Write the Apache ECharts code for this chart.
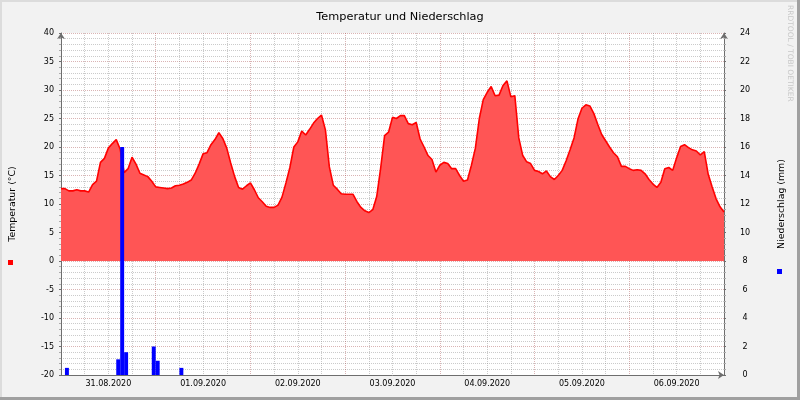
<!DOCTYPE html>
<html>
<head>
<meta charset="utf-8">
<script src="https://cdn.jsdelivr.net/npm/echarts@6.0.0/dist/echarts.min.js"></script>
<style>
html, body { margin: 0; padding: 0; background: #f2f2f2; }
#main { width: 800px; height: 400px; }
</style>
</head>
<body>
<div id="main"></div>
<script>
// Stunden ab 31.08.2020 00:00, ein Wert pro Stunde
var tempValues = [
    12.7, 12.7, 12.3, 12.3, 12.5, 12.3, 12.3, 12.1, 13.4, 14.0, 17.3, 18.0,
    19.8, 20.6, 21.3, 19.6, 15.5, 16.2, 18.2, 17.0, 15.4, 15.1, 14.8, 14.0,
    13.0, 12.9, 12.8, 12.7, 12.8, 13.2, 13.3, 13.5, 13.8, 14.2, 15.4, 17.0,
    18.8, 19.0, 20.4, 21.3, 22.5, 21.5, 19.8, 17.2, 14.8, 12.9, 12.6, 13.2,
    13.7, 12.5, 11.1, 10.4, 9.6, 9.4, 9.4, 9.8, 11.2, 13.7, 16.4, 20.0,
    20.9, 22.8, 22.1, 23.1, 24.2, 25.0, 25.6, 23.0, 16.5, 13.3, 12.6, 11.8,
    11.7, 11.7, 11.7, 10.4, 9.4, 8.8, 8.5, 9.0, 11.3, 16.3, 22.0, 22.6,
    25.2, 25.0, 25.5, 25.5, 24.1, 23.9, 24.3, 21.4, 20.0, 18.5, 17.8, 15.6,
    16.8, 17.3, 17.1, 16.2, 16.2, 15.0, 14.0, 14.2, 16.8, 19.8, 25.0, 28.3,
    29.6, 30.6, 29.0, 29.1, 30.8, 31.6, 28.8, 29.0, 21.6, 18.5, 17.4, 17.1,
    15.9, 15.7, 15.3, 15.8, 14.8, 14.3, 15.0, 15.9, 17.6, 19.5, 21.6, 24.9,
    26.8, 27.4, 27.2, 25.9, 24.0, 22.2, 21.1, 20.0, 19.0, 18.3, 16.6, 16.6,
    16.2, 15.9, 16.0, 15.9, 15.3, 14.3, 13.5, 12.9, 13.8, 16.2, 16.4, 15.9,
    18.1, 20.1, 20.4, 19.9, 19.5, 19.3, 18.6, 19.2, 15.2, 13.0, 10.9, 9.5,
    8.6
];
// Niederschlag: Stunde (Beginn) und Menge in mm
var precipHours = [1, 14, 15, 16, 23, 24, 30];
var precipValues = [0.5, 1.1, 16.0, 1.6, 2.0, 1.0, 0.5];
var dayLabels = ['31.08.2020', '01.09.2020', '02.09.2020', '03.09.2020', '04.09.2020', '05.09.2020', '06.09.2020'];

var colors = {
    back: '#f2f2f2',
    temp: '#ff0000',
    tempArea: '#ff5555',
    rain: '#0000ff',
    axis: '#6e6e6e',
    mgrid: 'rgba(150,40,40,0.35)',
    grid: 'rgba(140,140,140,0.45)'
};
var font = 'DejaVu Sans';

var chart = echarts.init(document.getElementById('main'), null, {renderer: 'canvas'});

var option = {
    backgroundColor: colors.back,
    animation: false,
    textStyle: {fontFamily: font},
    title: {
        text: 'Temperatur und Niederschlag',
        left: 'center',
        top: 7,
        textStyle: {fontFamily: font, fontSize: 11.3, fontWeight: 'normal', color: '#000'}
    },
    grid: {
        left: 60, right: 76, top: 33, bottom: 25,
        show: true, backgroundColor: '#fff', borderWidth: 0
    },
    xAxis: {
        type: 'value',
        min: 0,
        max: 168,
        interval: 6,
        axisLine: {onZero: false, lineStyle: {color: colors.axis}, symbol: ['none', 'arrow'], symbolSize: [6, 6]},
        axisTick: {show: false},
        axisLabel: {
            margin: 5,
            fontSize: 8,
            color: '#000',
            formatter: function (v) {
                if (v % 24 === 12) {
                    return dayLabels[(v - 12) / 24];
                }
                return '';
            }
        },
        splitLine: {
            show: true,
            showMinLine: true,
            lineStyle: {color: [colors.mgrid, colors.grid, colors.grid, colors.grid], type: [1, 1], width: 1}
        }
    },
    yAxis: [{
        type: 'value',
        min: -20,
        max: 40,
        interval: 5,
        name: 'Temperatur (°C)',
        nameLocation: 'middle',
        nameRotate: 90,
        nameGap: 44,
        nameTextStyle: {fontSize: 9.4, color: '#000'},
        axisLine: {show: true, lineStyle: {color: colors.axis}, symbol: ['none', 'arrow'], symbolSize: [6, 6]},
        axisTick: {show: true, length: 2, lineStyle: {color: colors.axis}},
        minorTick: {show: true, splitNumber: 5, length: 2, lineStyle: {color: '#aaa'}},
        axisLabel: {margin: 7, fontSize: 8, color: '#000'},
        splitLine: {lineStyle: {color: colors.mgrid, type: [1, 1]}},
        minorSplitLine: {show: true, lineStyle: {color: colors.grid, type: [1, 1]}}
    }, {
        type: 'value',
        min: 0,
        max: 24,
        interval: 2,
        position: 'right',
        name: 'Niederschlag (mm)',
        nameLocation: 'middle',
        nameRotate: 90,
        nameGap: 53,
        nameTextStyle: {fontSize: 9.4, color: '#000'},
        axisLine: {show: true, lineStyle: {color: colors.axis}, symbol: ['none', 'arrow'], symbolSize: [6, 6]},
        axisTick: {show: true, length: 2, lineStyle: {color: colors.axis}},
        minorTick: {show: true, splitNumber: 5, length: 2, lineStyle: {color: '#aaa'}},
        axisLabel: {margin: 21, fontSize: 8, color: '#000', align: 'center'},
        splitLine: {show: false}
    }],
    series: [{
        name: 'Temperatur',
        type: 'line',
        yAxisIndex: 0,
        showSymbol: false,
        symbol: 'none',
        data: tempValues.map(function (v, i) { return [i, v]; }),
        lineStyle: {color: colors.temp, width: 1.6},
        itemStyle: {color: colors.temp},
        areaStyle: {color: colors.tempArea, opacity: 1},
        z: 2
    }, {
        name: 'Niederschlag',
        type: 'bar',
        yAxisIndex: 1,
        barWidth: '100%',
        data: precipHours.map(function (h, i) { return [h + 0.5, precipValues[i]]; }),
        itemStyle: {color: colors.rain},
        z: 3
    }],
    graphic: [
        // Rahmen
        {type: 'line', shape: {x1: 0, y1: 1, x2: 799, y2: 1}, style: {stroke: '#dcdcdc', lineWidth: 2}},
        {type: 'line', shape: {x1: 1, y1: 0, x2: 1, y2: 399}, style: {stroke: '#dcdcdc', lineWidth: 2}},
        {type: 'line', shape: {x1: 0, y1: 398.5, x2: 800, y2: 398.5}, style: {stroke: '#a0a0a0', lineWidth: 3}},
        {type: 'line', shape: {x1: 798.5, y1: 0, x2: 798.5, y2: 400}, style: {stroke: '#a0a0a0', lineWidth: 3}},
        // Legendenfelder
        {type: 'rect', shape: {x: 8, y: 260, width: 5, height: 5}, style: {fill: colors.temp}},
        {type: 'rect', shape: {x: 777, y: 269, width: 5, height: 5}, style: {fill: colors.rain}},
        {
            type: 'text',
            x: 790, y: 5,
            rotation: -Math.PI / 2,
            style: {text: 'RRDTOOL / TOBI OETIKER', fill: '#c8c8c8', font: '7.5px "DejaVu Sans"', textVerticalAlign: 'middle'}
        }
    ]
};

chart.setOption(option);
</script>
</body>
</html>
